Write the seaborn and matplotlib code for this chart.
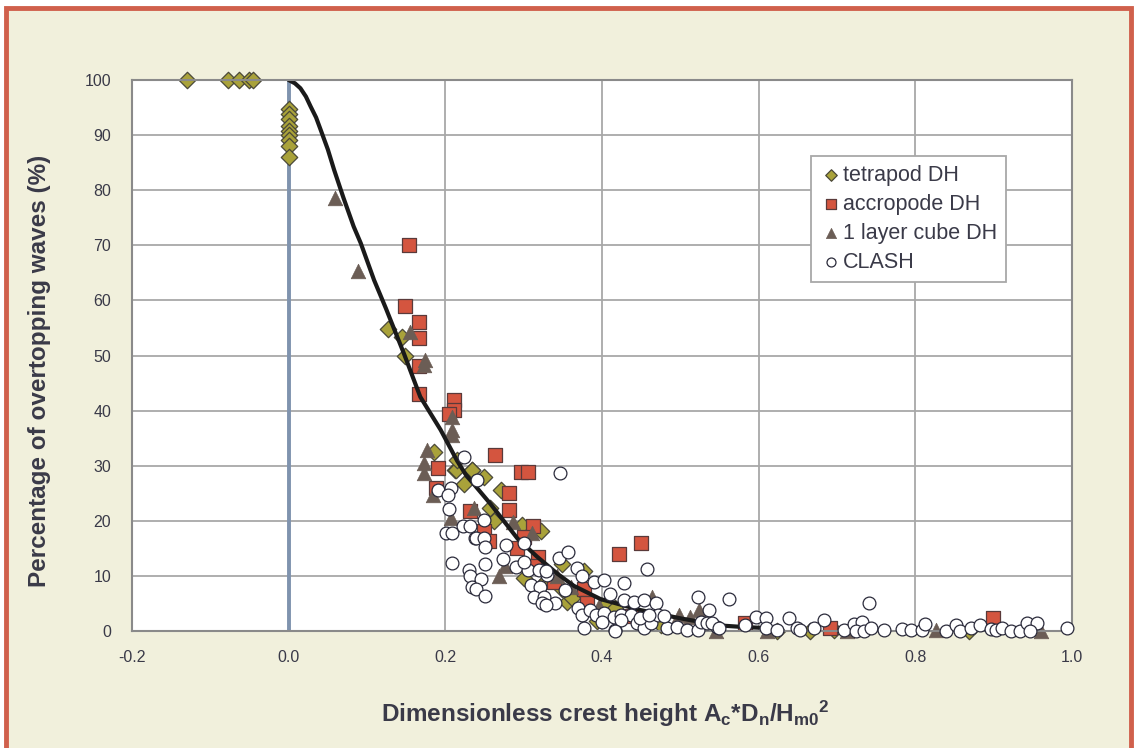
import numpy as np
import pandas as pd
import matplotlib
matplotlib.use("Agg")
import matplotlib.pyplot as plt
import seaborn as sns
from matplotlib.patches import Rectangle
from matplotlib.ticker import MultipleLocator

# --- data ---
tetra_x = [-0.130, -0.078, -0.063, -0.051, -0.046,
           0, 0, 0, 0, 0, 0, 0, 0, 0,
           0.127, 0.145, 0.149, 0.186, 0.212, 0.213, 0.215, 0.224, 0.234, 0.234,
           0.249, 0.257, 0.262, 0.271, 0.298, 0.300, 0.322, 0.330, 0.328, 0.349,
           0.349, 0.355, 0.362, 0.377, 0.405, 0.417, 0.394, 0.475, 0.624, 0.666,
           0.696, 0.868]
tetra_y = [100, 100, 100, 100, 100,
           94.7, 93.9, 93.0, 91.7, 90.8, 90.0, 89.1, 88.1, 86.1,
           54.8, 53.3, 50.0, 32.5, 29.2, 29.3, 31.0, 26.6, 29.2, 29.3,
           27.9, 22.4, 20.0, 25.6, 19.2, 9.6, 18.2, 9.3, 9.1, 12.2,
           7.7, 5.3, 5.9, 10.8, 4.9, 4.1, 1.9, 1.1, 0.0, 0.0,
           0.2, 0.0]

accro_x = [0.153, 0.149, 0.167, 0.167, 0.167, 0.167, 0.211, 0.211, 0.205, 0.263,
           0.191, 0.297, 0.306, 0.188, 0.281, 0.281, 0.232, 0.312, 0.249, 0.256,
           0.300, 0.291, 0.318, 0.313, 0.339, 0.422, 0.450, 0.377, 0.381, 0.437,
           0.583, 0.691, 0.899]
accro_y = [70.1, 59.0, 56.0, 53.1, 48.1, 43.0, 42.0, 40.1, 39.3, 31.9,
           29.5, 28.9, 28.9, 26.0, 25.0, 22.0, 21.7, 19.1, 18.1, 16.3,
           17.0, 15.1, 13.5, 11.8, 8.9, 13.9, 16.0, 7.7, 5.1, 2.8,
           1.5, 0.6, 2.4]

cube_x = [0.059, 0.088, 0.155, 0.174, 0.173, 0.209, 0.209, 0.209, 0.177, 0.173,
          0.173, 0.184, 0.207, 0.237, 0.286, 0.311, 0.268, 0.276, 0.343, 0.360,
          0.396, 0.464, 0.498, 0.524, 0.512, 0.545, 0.611, 0.713, 0.826, 0.960]
cube_y = [78.6, 65.3, 54.3, 49.2, 48.3, 38.9, 36.5, 35.6, 32.8, 30.4,
          28.6, 24.7, 20.5, 22.4, 19.8, 17.7, 10.0, 11.8, 9.9, 8.0,
          4.5, 6.2, 2.9, 3.8, 2.5, 0.0, 0.0, 0.0, 0.2, 0.0]

clash_x = [0.224, 0.190, 0.207, 0.203, 0.205, 0.201, 0.208, 0.223, 0.232, 0.238,
           0.208, 0.230, 0.232, 0.234, 0.241, 0.249, 0.239, 0.249, 0.251, 0.250,
           0.245, 0.239, 0.250, 0.278, 0.273, 0.290, 0.300, 0.305, 0.309, 0.320,
           0.321, 0.313, 0.326, 0.324, 0.340, 0.330, 0.347, 0.345, 0.300, 0.328,
           0.357, 0.368, 0.375, 0.390, 0.402, 0.428, 0.410, 0.428, 0.441, 0.454,
           0.458, 0.469, 0.369, 0.375, 0.385, 0.392, 0.402, 0.377, 0.417, 0.415,
           0.424, 0.437, 0.445, 0.454, 0.462, 0.472, 0.483, 0.496, 0.509, 0.522,
           0.522, 0.537, 0.526, 0.534, 0.547, 0.562, 0.583, 0.596, 0.609, 0.609,
           0.624, 0.639, 0.649, 0.353, 0.328, 0.400, 0.424, 0.449, 0.460, 0.479,
           0.417, 0.541, 0.549, 0.653, 0.671, 0.683, 0.709, 0.722, 0.732, 0.724,
           0.734, 0.744, 0.760, 0.741, 0.783, 0.794, 0.809, 0.812, 0.839, 0.852,
           0.857, 0.871, 0.883, 0.896, 0.903, 0.911, 0.922, 0.933, 0.943, 0.955,
           0.947, 0.993]
clash_y = [31.6, 25.6, 25.9, 24.7, 22.1, 17.7, 17.8, 19.1, 19.1, 16.8,
           12.3, 11.1, 9.9, 8.0, 27.4, 20.1, 16.9, 16.9, 15.2, 12.2,
           9.4, 7.7, 6.4, 15.6, 13.0, 11.6, 15.9, 11.1, 8.3, 11.1,
           8.0, 6.2, 6.2, 5.0, 5.0, 10.2, 28.6, 13.2, 12.6, 10.8,
           14.4, 11.4, 9.9, 8.9, 9.3, 8.7, 6.8, 5.6, 5.3, 5.6,
           11.2, 5.0, 4.1, 2.9, 3.8, 2.9, 3.2, 0.5, 0.2, 2.6,
           2.9, 2.9, 1.4, 0.5, 1.4, 2.9, 0.5, 0.8, 0.2, 0.2,
           6.2, 3.8, 1.7, 1.4, 0.8, 5.8, 1.1, 2.6, 2.3, 0.5,
           0.2, 2.3, 0.5, 7.4, 4.7, 1.7, 2.0, 2.3, 2.9, 2.8,
           0.0, 1.4, 0.5, 0.2, 0.5, 2.0, 0.1, 1.3, 1.6, 0.0,
           0.0, 0.6, 0.1, 5.1, 0.4, 0.1, 0.2, 1.3, 0.0, 1.1,
           0.0, 0.5, 1.1, 0.3, 0.2, 0.5, 0.0, 0.0, 1.5, 1.5,
           0.0, 0.5]

curve_x = [0.0, 0.008, 0.015, 0.022, 0.028, 0.035, 0.041, 0.050, 0.058, 0.070,
           0.083, 0.092, 0.109, 0.124, 0.147, 0.168, 0.194, 0.215, 0.226, 0.258,
           0.292, 0.317, 0.343, 0.364, 0.398, 0.449, 0.500, 0.551, 0.583, 0.600]
curve_y = [100, 99.4, 98.5, 97.0, 95.2, 93.2, 90.9, 87.4, 83.7, 78.6,
           73.4, 70.4, 63.7, 58.6, 50.4, 42.5, 36.5, 30.9, 28.4, 23.0,
           16.8, 13.5, 10.4, 8.2, 5.8, 3.8, 2.3, 1.0, 0.7, 0.6]

xticks = [-0.2, 0.0, 0.2, 0.4, 0.6, 0.8, 1.0]
yticks = [0, 10, 20, 30, 40, 50, 60, 70, 80, 90, 100]

sns.set_style("white")
plt.rcParams['font.family'] = ['Liberation Sans', 'DejaVu Sans']
plt.rcParams['mathtext.fontset'] = 'custom'
plt.rcParams['mathtext.rm'] = 'Liberation Sans:bold'
plt.rcParams['mathtext.it'] = 'Liberation Sans:bold'
plt.rcParams['mathtext.bf'] = 'Liberation Sans:bold'

W, H = 1137, 748
fig = plt.figure(figsize=(W / 100, H / 100), dpi=100, facecolor='white')
# beige panel with red frame (bottom edge runs off the picture)
fig.patches.append(Rectangle((6 / W, -0.05), (1131 - 6) / W, 1.05 - 8 / H,
                             transform=fig.transFigure, facecolor='#F1F0DC',
                             edgecolor='#D0604C', lw=3.5, zorder=-5))

ax = fig.add_axes([132 / W, 1 - 631 / H, (1072 - 132) / W, (631 - 80) / H])
ax.set_facecolor('white')
ax.set_zorder(1)

txt = '#3A3A48'
df_t = pd.DataFrame({'x': tetra_x, 'y': tetra_y})
df_a = pd.DataFrame({'x': accro_x, 'y': accro_y})
df_c = pd.DataFrame({'x': cube_x, 'y': cube_y})
df_k = pd.DataFrame({'x': clash_x, 'y': clash_y})

ax.axvline(0, color='#7F93AE', lw=2.8, zorder=1.5)

sns.scatterplot(data=df_t, x='x', y='y', marker='D', s=70, color='#A9A23A',
                edgecolor='#4A4838', linewidth=0.9, label='tetrapod DH',
                ax=ax, zorder=2, clip_on=False)
sns.scatterplot(data=df_a, x='x', y='y', marker='s', s=95, color='#D4553F',
                edgecolor='#5A3A3A', linewidth=0.9, label='accropode DH',
                ax=ax, zorder=2.1, clip_on=False)
sns.scatterplot(data=df_c, x='x', y='y', marker='^', s=110, color='#6B5D55',
                edgecolor='#6B5D55', linewidth=0.5, label='1 layer cube DH',
                ax=ax, zorder=2.2, clip_on=False)
sns.lineplot(x=curve_x, y=curve_y, sort=False, color='#1A1A1A', lw=3,
             ax=ax, zorder=2.5)
sns.scatterplot(data=df_k, x='x', y='y', marker='o', s=85, color='white',
                edgecolor='#2A2A3A', linewidth=0.9, label='CLASH',
                ax=ax, zorder=3, clip_on=False)

ax.set_xlim(-0.2, 1.0)
ax.set_ylim(0, 100)
ax.set_xticks(xticks)
ax.set_xticklabels([f"{v:.1f}" for v in xticks])
ax.set_yticks(yticks)
ax.set_yticklabels([str(v) for v in yticks])
ax.xaxis.set_minor_locator(MultipleLocator(0.04))
ax.yaxis.set_minor_locator(MultipleLocator(2))
ax.grid(True, which='major', color='#A8A8A8', lw=1.3)
ax.set_axisbelow(True)
ax.tick_params(which='both', direction='in', color='#8A8A8A', labelcolor=txt,
               labelsize=11.5)
ax.tick_params(which='major', length=5, width=1.2)
ax.tick_params(which='minor', length=4, width=1.2)
ax.tick_params(axis='y', pad=15)
ax.tick_params(axis='x', pad=14)
for sp in ax.spines.values():
    sp.set_color('#8A8A8A')
    sp.set_linewidth(1.5)

ax.set_xlabel(r"Dimensionless crest height A$_{\mathrm{c}}$*D$_{\mathrm{n}}$/H$_{\mathrm{m0}}$$^{\mathrm{2}}$",
              fontsize=17.5, fontweight='bold', color=txt)
ax.set_ylabel("Percentage of overtopping waves (%)", fontsize=17.5,
              fontweight='bold', color=txt)
ax.xaxis.label.set_va('center')
ax.xaxis.set_label_coords((605 - 132) / 940, (631 - 714) / 551)
ax.yaxis.label.set_va('center')
ax.yaxis.set_label_coords((40 - 132) / 940, (631 - 371) / 551)

leg = ax.legend(loc='upper left', bbox_to_anchor=(811 / W, 1 - 156 / H),
                bbox_transform=fig.transFigure, fontsize=15.5, frameon=True,
                fancybox=False, framealpha=1, edgecolor='#A8A8A8',
                handletextpad=0.05, labelspacing=0.37, borderpad=0.42,
                markerscale=0.7, handlelength=1.0, borderaxespad=0)
leg.get_frame().set_linewidth(1.3)
for t in leg.get_texts():
    t.set_color(txt)

fig.savefig('out.png', dpi=100, facecolor='white')
